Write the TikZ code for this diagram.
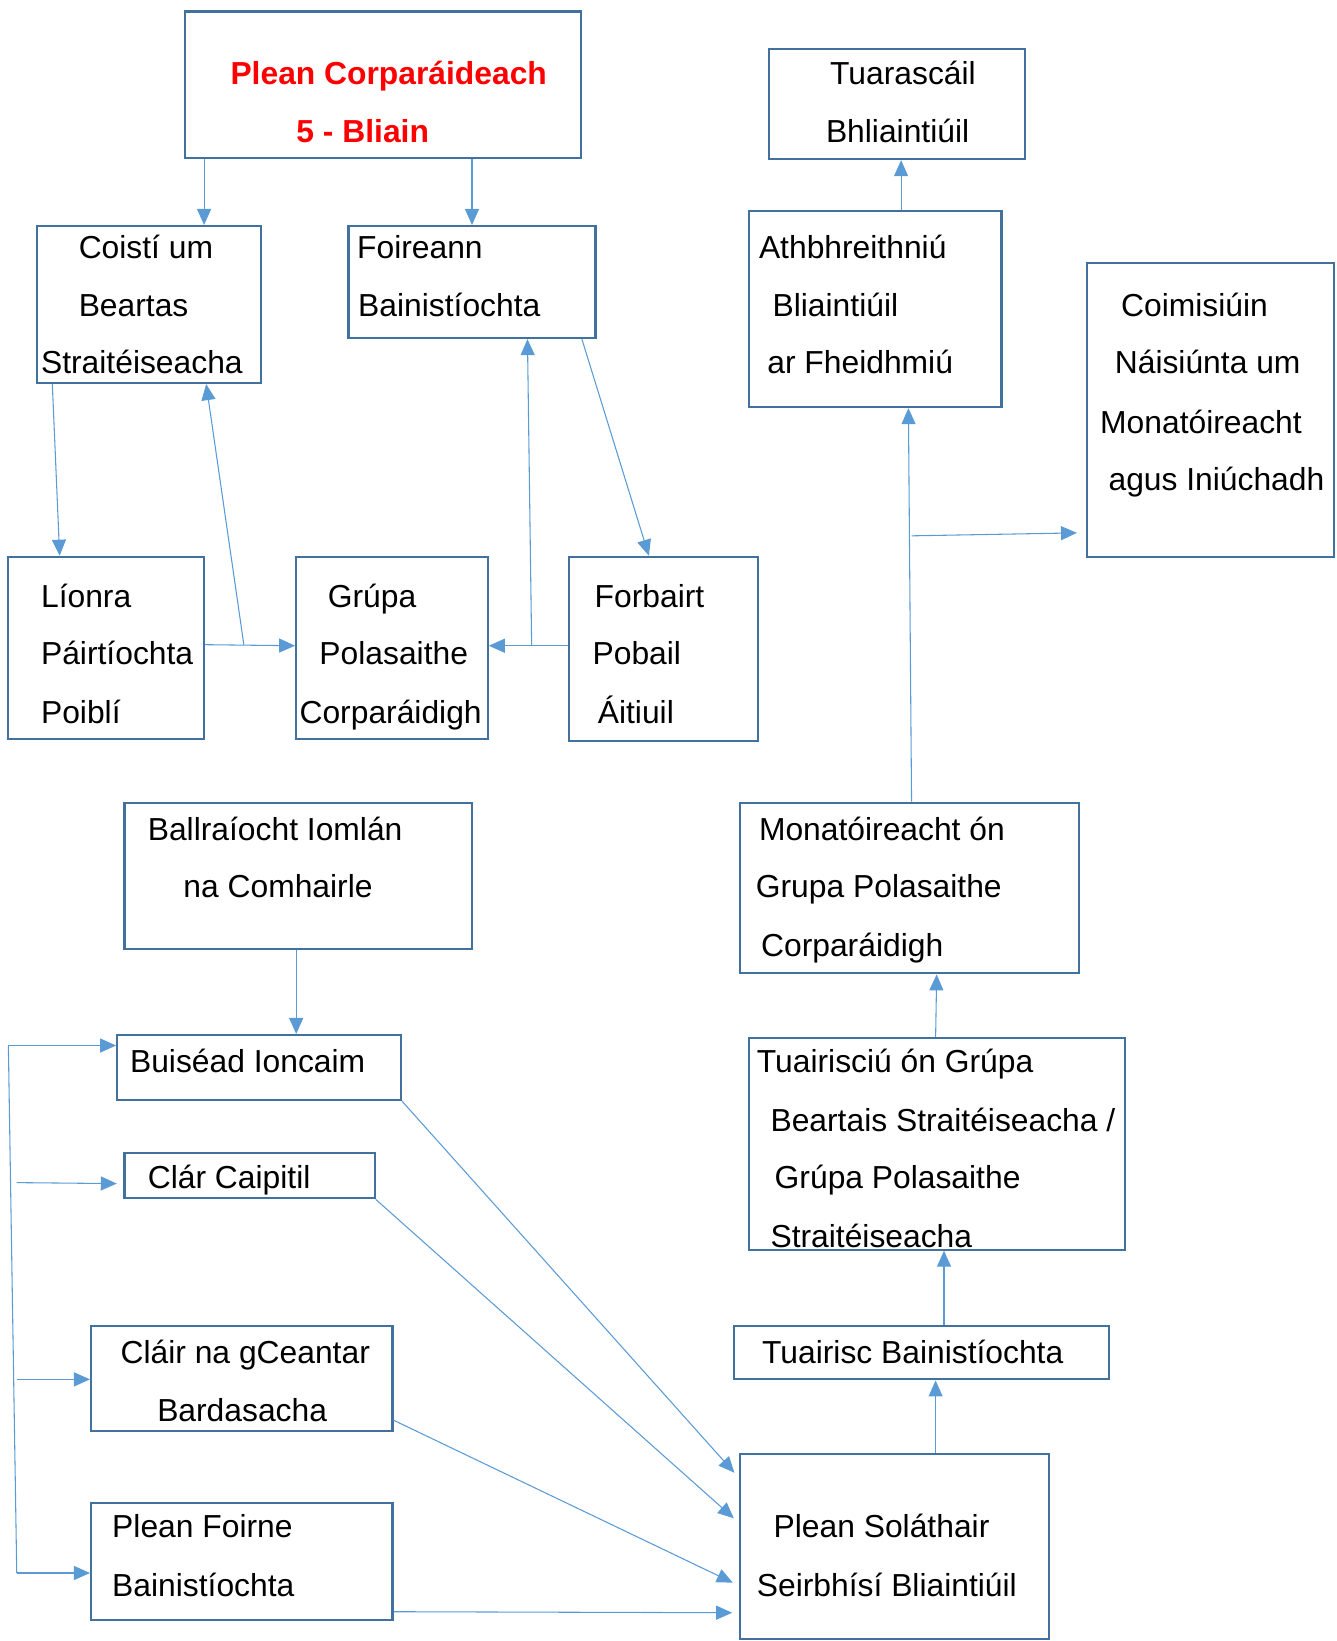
\documentclass[tikz,border=0pt]{standalone}
\usepackage{fontspec}
\setmainfont{Liberation Sans}
\usetikzlibrary{arrows.meta,fit}
\definecolor{boxc}{HTML}{41719C}
\definecolor{arrc}{HTML}{5B9BD5}
\begin{document}
\begin{tikzpicture}[x=0.78466pt,y=-0.78466pt,
 box/.style={draw=boxc,line width=1.6pt,inner sep=0pt},
 txt/.style={anchor=base west,inner sep=0pt,font=\fontsize{23.85}{28}\selectfont},
 ttl/.style={anchor=base west,inner sep=0pt,font=\fontsize{23.85}{28}\selectfont\bfseries,text=red},
 conn/.style={draw=arrc,line width=0.8pt},
 arr/.style={conn,-{Triangle[length=12pt,width=10.5pt]}}]
\useasboundingbox (0,0) rectangle (1277,1568);
% boxes
\node[box,fit={(177,11) (555,151)}] (plean) {};
\node[box,fit={(35,216) (249,366)}] (coisti) {};
\node[box,fit={(333,216) (569,323)}] (foireann) {};
\node[box,fit={(735,47) (979,152)}] (tuar) {};
\node[box,fit={(716,202) (957,389)}] (athb) {};
\node[box,fit={(1039,251) (1275,532)}] (coimis) {};
\node[box,fit={(8,532) (195,706)}] (lionra) {};
\node[box,fit={(283,532) (466,706)}] (grupa) {};
\node[box,fit={(544,532) (724,708)}] (forbairt) {};
\node[box,fit={(119,767) (451,907)}] (ball) {};
\node[box,fit={(707,767) (1031,930)}] (monat) {};
\node[box,fit={(112,989) (383,1051)}] (buis) {};
\node[box,fit={(119,1102) (358,1145)}] (clar) {};
\node[box,fit={(716,992) (1075,1194)}] (tuair) {};
\node[box,fit={(87,1267) (375,1367)}] (cgc) {};
\node[box,fit={(701,1267) (1060,1318)}] (tb) {};
\node[box,fit={(87,1436) (375,1548)}] (pf) {};
\node[box,fit={(707,1389) (1002,1566)}] (ps) {};
% texts
\node[ttl] (t1a) at (220,81) {Plean Corparáideach};
\node[ttl] (t1b) at (283,136) {5 - Bliain};
\node[txt] (t2a) at (75,247) {Coistí um};
\node[txt] (t2b) at (75,302) {Beartas};
\node[txt] (t2c) at (39,357) {Straitéiseacha};
\node[txt] (t3a) at (341,247) {Foireann};
\node[txt] (t3b) at (342,302) {Bainistíochta};
\node[txt] (t4a) at (793,81) {Tuarascáil};
\node[txt] (t4b) at (789,136) {Bhliaintiúil};
\node[txt] (t5a) at (725,247) {Athbhreithniú};
\node[txt] (t5b) at (738,302) {Bliaintiúil};
\node[txt] (t5c) at (733,357) {ar Fheidhmiú};
\node[txt] (t6a) at (1071,302) {Coimisiúin};
\node[txt] (t6b) at (1065,357) {Náisiúnta um};
\node[txt] (t6c) at (1051,414) {Monatóireacht};
\node[txt] (t6d) at (1059,469) {agus Iniúchadh};
\node[txt] (t7a) at (39,580) {Líonra};
\node[txt] (t7b) at (39,635) {Páirtíochta};
\node[txt] (t7c) at (39,691) {Poiblí};
\node[txt] (t8a) at (313,580) {Grúpa};
\node[txt] (t8b) at (305,635) {Polasaithe};
\node[txt] (t8c) at (286,691) {Corparáidigh};
\node[txt] (t9a) at (568,580) {Forbairt};
\node[txt] (t9b) at (566,635) {Pobail};
\node[txt] (t9c) at (571,691) {Áitiuil};
\node[txt] (t10a) at (141,803) {Ballraíocht Iomlán};
\node[txt] (t10b) at (175,858) {na Comhairle};
\node[txt] (t11a) at (725,803) {Monatóireacht ón};
\node[txt] (t11b) at (722,858) {Grupa Polasaithe};
\node[txt] (t11c) at (727,914) {Corparáidigh};
\node[txt] (t12a) at (124,1025) {Buiséad Ioncaim};
\node[txt] (t13a) at (141,1136) {Clár Caipitil};
\node[txt] (t14a) at (723,1025) {Tuairisciú ón Grúpa};
\node[txt] (t14b) at (736,1081) {Beartais Straitéiseacha /};
\node[txt] (t14c) at (740,1136) {Grúpa Polasaithe};
\node[txt] (t14d) at (736,1192) {Straitéiseacha};
\node[txt] (t15a) at (115,1303) {Cláir na gCeantar};
\node[txt] (t15b) at (150,1358) {Bardasacha};
\node[txt] (t16a) at (728,1303) {Tuairisc Bainistíochta};
\node[txt] (t17a) at (107,1469) {Plean Foirne};
\node[txt] (t17b) at (107,1525) {Bainistíochta};
\node[txt] (t18a) at (739,1469) {Plean Soláthair};
\node[txt] (t18b) at (723,1525) {Seirbhísí Bliaintiúil};
% junction coordinates
\coordinate (j1) at (233,616);
\coordinate (j2) at (508,617);
\coordinate (j3) at (871,512);
\coordinate (j4) at (8,999);
\coordinate (j5) at (16,1503);
\coordinate (j6) at (16,1130);
\coordinate (j7) at (16,1318);
% connectors
\draw[arr] (plean.south -| 195,0) -- (coisti.north -| 195,0);
\draw[arr] (plean.south -| 451,0) -- (foireann.north -| 451,0);
\draw[arr] (athb.north -| 861,0) -- (tuar.south -| 861,0);
\draw[arr] (coisti.south -| 50,0) -- (lionra.north -| 57,0);
\draw[arr] (lionra.east |- 0,616) -- (grupa.west |- 0,617);
\draw[arr] (j1) -- (coisti.south -| 197,0);
\draw[arr] (forbairt.west |- 0,617) -- (grupa.east |- 0,617);
\draw[arr] (j2) -- (foireann.south -| 504,0);
\draw[arr] (foireann.south -| 556,0) -- (forbairt.north -| 620,0);
\draw[arr] (monat.north -| 871,0) -- (athb.south -| 868,0);
\draw[arr,shorten >=7pt] (j3) -- (coimis.west |- 0,509);
\draw[arr] (ball.south -| 283,0) -- (buis.north -| 283,0);
\draw[arr] (j4) -- (buis.west |- 0,999);
\draw[conn] (j4) -- (j5);
\draw[arr] (j5) -- (pf.west |- 0,1503);
\draw[arr,shorten >=5pt] (j6) -- (clar.west |- 0,1131);
\draw[arr] (j7) -- (cgc.west |- 0,1318);
\draw[arr,shorten >=5pt] (buis.south east) -- (ps.west |- 0,1412);
\draw[arr,shorten >=5pt] (clar.south east) -- (ps.west |- 0,1455);
\draw[arr,shorten >=5pt] (cgc.east |- 0,1357) -- (ps.west |- 0,1515);
\draw[arr,shorten >=5pt] (pf.east |- 0,1540) -- (ps.west |- 0,1541);
\draw[arr] (ps.north -| 894,0) -- (tb.south -| 894,0);
\draw[arr] (tb.north -| 902,0) -- (tuair.south -| 902,0);
\draw[arr] (tuair.north -| 894,0) -- (monat.south -| 895,0);
\end{tikzpicture}
\end{document}
